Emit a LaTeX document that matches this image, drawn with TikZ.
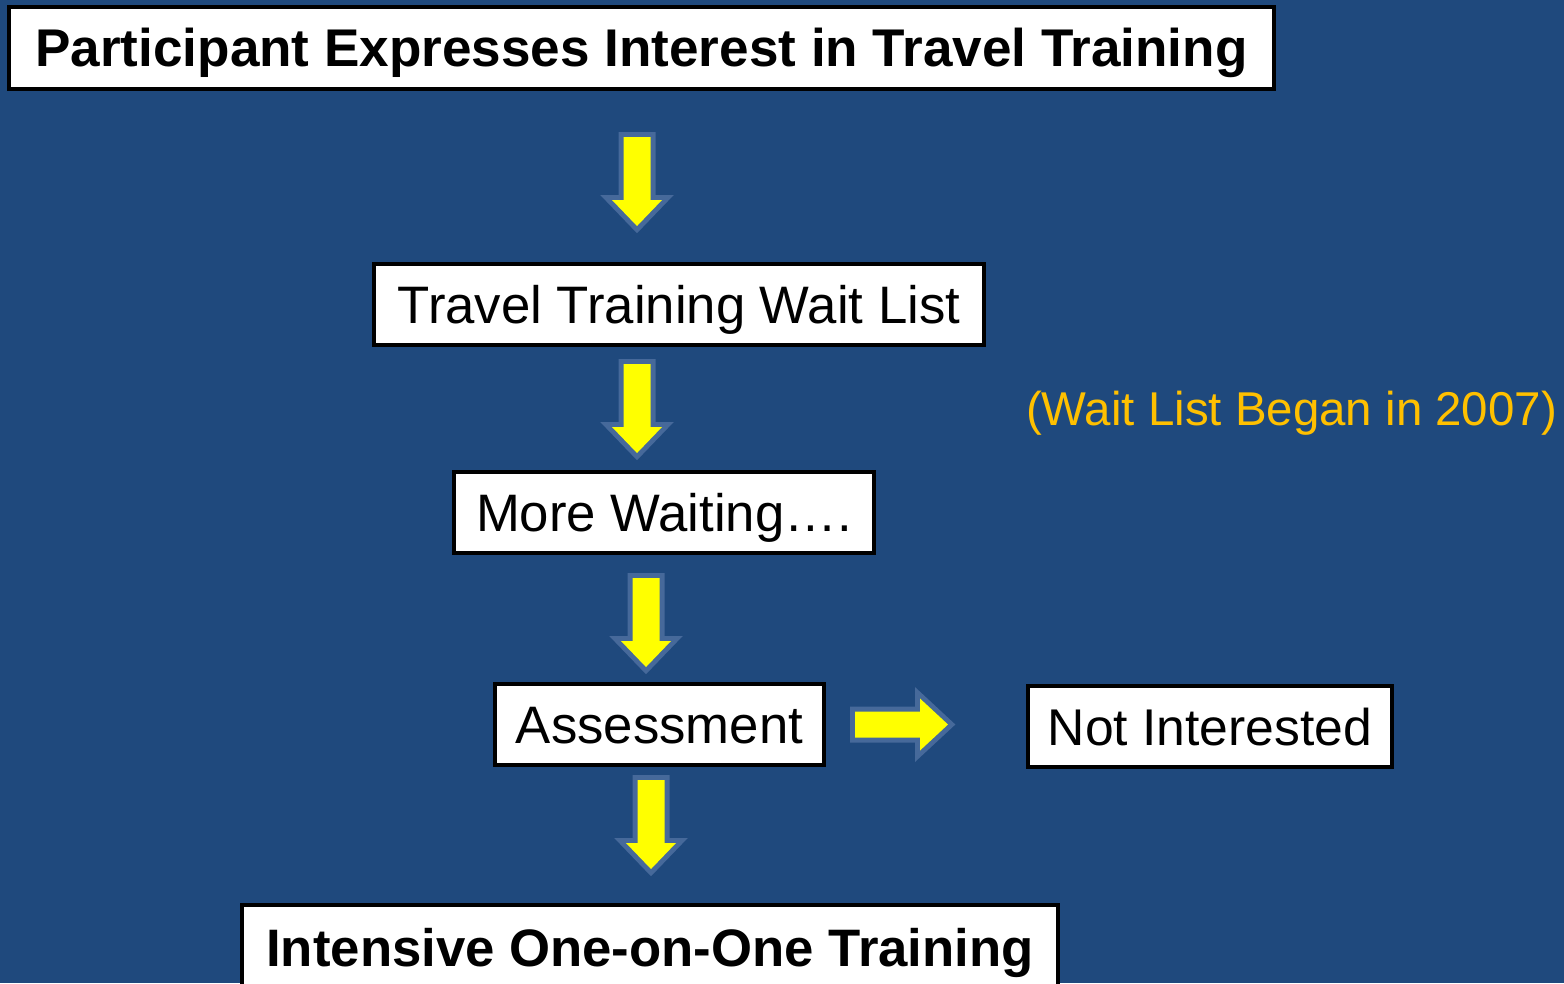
\documentclass[tikz,border=0pt]{standalone}
\usepackage{fontspec}
\setmainfont{Liberation Sans}
\usepackage{tikz}
\usetikzlibrary{positioning}
\tikzstyle{flowchart} = [y = -1cm, every node/.style={font=\fontsize{15pt}{18pt}\selectfont}]
\definecolor{slideBlue}{HTML}{1F497D}
\definecolor{arrowYellow}{HTML}{FFFF00}
\definecolor{arrowEdge}{HTML}{46699A}
\definecolor{noteOrange}{HTML}{FFC000}
\tikzstyle{boxStyle} = [draw=black, fill=white, line width=1.15pt, inner sep=0pt, text height=10.74pt, text depth=0pt]
\tikzstyle{arrowStyle} = [draw=arrowEdge, line width=.1cm, line join=miter, postaction={fill=arrowYellow}]
\tikzstyle{noteText} = [text=noteOrange, font=\fontsize{13.5pt}{16pt}\selectfont]
\newcommand{\flowBox}[6]{\node [boxStyle, minimum width=#4cm, minimum height=#5cm] (#1) at (#2,#3) {#6};}
\newcommand{\downArrow}[2]{\draw [arrowStyle] (#1 - .135, #2) -- (#1 + .135, #2) -- (#1 + .135, #2 + .63) -- (#1 + .25, #2 + .63) -- (#1, #2 + .89) -- (#1 - .25, #2 + .63) -- (#1 - .135, #2 + .63) -- cycle;}
\newcommand{\rightArrow}[2]{\draw [arrowStyle] (#1, #2 - .13) -- (#1 + .65, #2 - .13) -- (#1 + .65, #2 - .26) -- (#1 + .93, #2) -- (#1 + .65, #2 + .26) -- (#1 + .65, #2 + .13) -- (#1, #2 + .13) -- cycle;}

\begin{document}
\begin{tikzpicture}[flowchart]
  \fill [slideBlue] (0,0) rectangle (15.64,9.83);
  \useasboundingbox (0,0) rectangle (15.64,9.83);
  \flowBox{interest}{6.415}{.48}{12.65}{.82}{\fontsize{15.1pt}{18pt}\selectfont\textbf{Participant Expresses Interest in Travel Training}}
  \flowBox{waitList}{6.79}{3.045}{6.10}{.81}{Travel Training Wait List}
  \flowBox{moreWaiting}{6.64}{5.125}{4.20}{.81}{More Waiting….}
  \flowBox{assessment}{6.595}{7.245}{3.29}{.81}{Assessment}
  \flowBox{notInterested}{12.10}{7.265}{3.64}{.81}{\fontsize{14.7pt}{17pt}\selectfont Not Interested}
  \flowBox{training}{6.50}{9.48}{8.16}{.86}{\textbf{Intensive One-on-One Training}}
  \node [noteText] (waitNote) at (12.915,4.13) {(Wait List Began in 2007)};
  \downArrow{6.37}{1.37}\downArrow{6.37}{3.64}\downArrow{6.46}{5.78}\downArrow{6.51}{7.80}
  \rightArrow{8.55}{7.245}
\end{tikzpicture}
\end{document}
